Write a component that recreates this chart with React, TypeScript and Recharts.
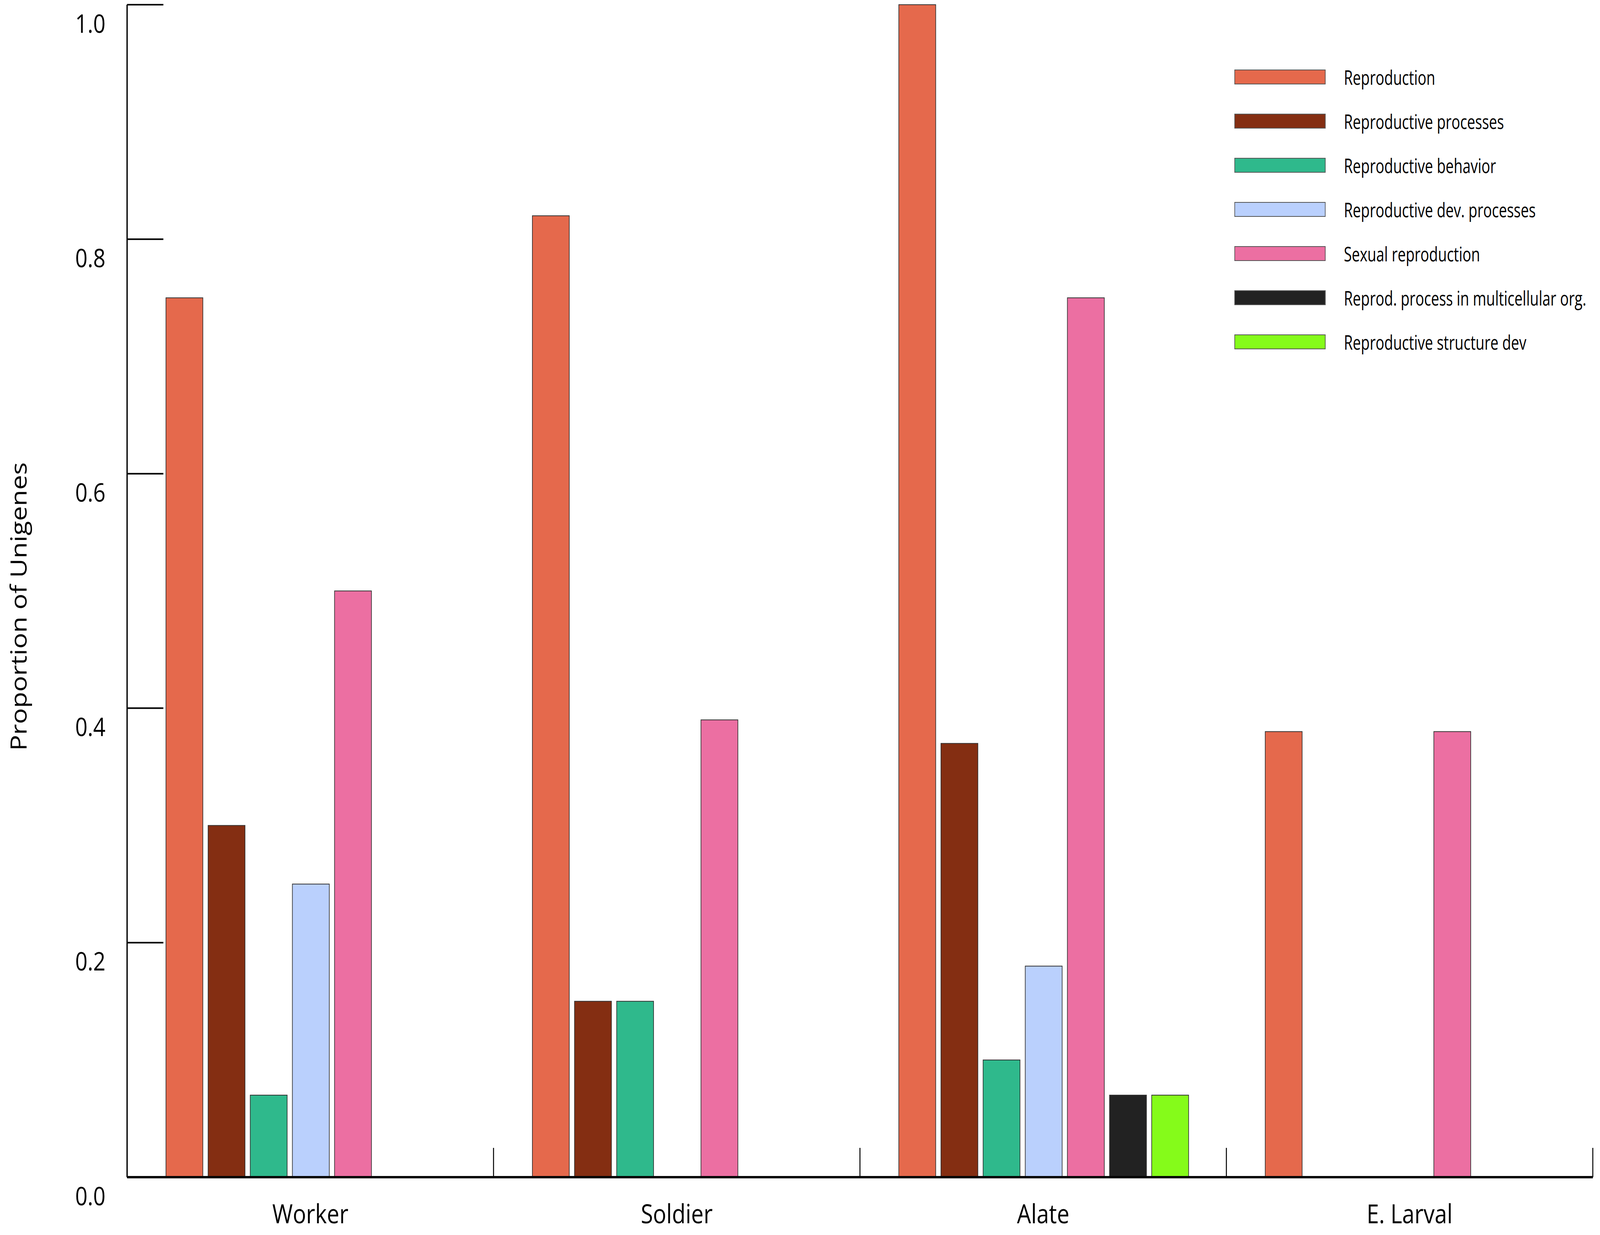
import { BarChart, Bar, XAxis, YAxis, Legend, Label } from "recharts";

const CASTES = ["Worker", "Soldier", "Alate", "E. Larval"];

const SERIES_NAMES = [
  "Reproduction",
  "Reproductive processes",
  "Reproductive behavior",
  "Reproductive dev. processes",
  "Sexual reproduction",
  "Reprod. process in multicellular org.",
  "Reproductive structure dev",
];

const COLORS = ["#e5694c", "#842e12", "#2fb98c", "#bad0fd", "#ec6fa2", "#222222", "#85fb1a"];

// proportions per caste, in CASTES order
const reproduction = [0.75, 0.82, 1.0, 0.38];
const reproductiveProcesses = [0.3, 0.15, 0.37, 0];
const reproductiveBehavior = [0.07, 0.15, 0.1, 0];
const reproductiveDevProcesses = [0.25, 0, 0.18, 0];
const sexualReproduction = [0.5, 0.39, 0.75, 0.38];
const multicellularProcess = [0, 0, 0.07, 0];
const structureDev = [0, 0, 0.07, 0];

const Y_TICKS = [0, 0.2, 0.4, 0.6, 0.8, 1.0];

const SERIES_VALUES = [
  reproduction,
  reproductiveProcesses,
  reproductiveBehavior,
  reproductiveDevProcesses,
  sexualReproduction,
  multicellularProcess,
  structureDev,
];

const data = CASTES.map((caste, i) => {
  const row: Record<string, string | number> = { caste };
  SERIES_NAMES.forEach((name, s) => {
    row[name] = SERIES_VALUES[s][i];
  });
  return row;
});

const W = 4897;
const H = 3161;
const FONT = "'Open Sans', 'Noto Sans', sans-serif";

function YTick(props: any) {
  const { x, y, payload } = props;
  return (
    <g>
      <line x1={x} x2={x + 111} y1={y} y2={y} stroke="#000" strokeWidth={4} />
      <text
        x={x - 66}
        y={y + 54}
        textAnchor="end"
        dominantBaseline="middle"
        fontFamily={FONT}
        fontSize={66}
        fill="#000"
      >
        {Number(payload.value).toFixed(1)}
      </text>
    </g>
  );
}

function XTick(props: any) {
  const { x, y, payload, width, visibleTicksCount } = props;
  const half = payload.offset || width / visibleTicksCount / 2;
  return (
    <g>
      <line x1={x + half} x2={x + half} y1={y} y2={y - 75} stroke="#000" strokeWidth={3} />
      <text
        x={x}
        y={y + 100}
        textAnchor="middle"
        dominantBaseline="middle"
        fontFamily={FONT}
        fontSize={68}
        fill="#000"
      >
        {payload.value}
      </text>
    </g>
  );
}

function LegendBox(props: any) {
  const { payload = [] } = props;
  // keep the series order instead of the alphabetical default
  const items = [...payload].sort(
    (a: any, b: any) => SERIES_NAMES.indexOf(a.value) - SERIES_NAMES.indexOf(b.value)
  );
  return (
    <div style={{ fontFamily: FONT, fontSize: 52, color: "#000" }}>
      {items.map((entry: any) => (
        <div key={entry.value} style={{ display: "flex", alignItems: "center", height: 113 }}>
          <div
            style={{
              flex: "none",
              width: 279,
              height: 38,
              background: entry.color,
              border: "2px solid #555",
              boxSizing: "border-box",
              marginRight: 56,
            }}
          />
          <span
            style={{
              display: "inline-block",
              whiteSpace: "nowrap",
              transform: "scaleX(0.85)",
              transformOrigin: "left center",
            }}
          >
            {entry.value}
          </span>
        </div>
      ))}
    </div>
  );
}

export default function App() {
  // the page may be narrower than the chart; squeeze it to fit the window width
  const vw = typeof window !== "undefined" ? window.innerWidth || W : W;
  const sx = Math.min(1, vw / W);
  return (
    <div
      style={{
        position: "absolute",
        left: 0,
        top: 0,
        width: W,
        height: H,
        overflow: "hidden",
        background: "#fff",
        transform: `scaleX(${sx})`,
        transformOrigin: "0 0",
      }}
    >
      <BarChart
        width={W}
        height={H}
        data={data}
        margin={{ top: 12, right: 22, bottom: 0, left: 0 }}
        barCategoryGap="10.6%"
        barGap={16}
      >
        <XAxis
          dataKey="caste"
          height={148}
          axisLine={{ stroke: "#000", strokeWidth: 6 }}
          tickLine={false}
          tickSize={0}
          tickMargin={0}
          tick={<XTick />}
          interval={0}
        />
        <YAxis
          width={389}
          domain={[0, 1]}
          ticks={Y_TICKS}
          axisLine={{ stroke: "#000", strokeWidth: 4 }}
          tickLine={false}
          tickSize={0}
          tickMargin={0}
          tick={<YTick />}
          interval={0}
        >
          <Label
            content={(p: any) => {
              const vb = p.viewBox || {};
              const cx = (vb.x || 0) + 63;
              const cy = (vb.y || 0) + (vb.height || 0) / 2 + 40;
              return (
                <text
                  x={cx}
                  y={cy}
                  transform={`rotate(-90, ${cx}, ${cy})`}
                  textAnchor="middle"
                  dominantBaseline="middle"
                  fontFamily={FONT}
                  fontSize={68}
                  fill="#000"
                >
                  Proportion of Unigenes
                </text>
              );
            }}
          />
        </YAxis>
        <Legend
          layout="vertical"
          align="center"
          verticalAlign="middle"
          content={<LegendBox />}
          wrapperStyle={{ left: 3778, top: 140, width: 1110, height: 800 }}
        />
        {SERIES_NAMES.map((name, i) => (
          <Bar
            key={name}
            dataKey={name}
            name={name}
            fill={COLORS[i]}
            stroke="#333"
            strokeWidth={2}
            isAnimationActive={false}
          />
        ))}
      </BarChart>
    </div>
  );
}
